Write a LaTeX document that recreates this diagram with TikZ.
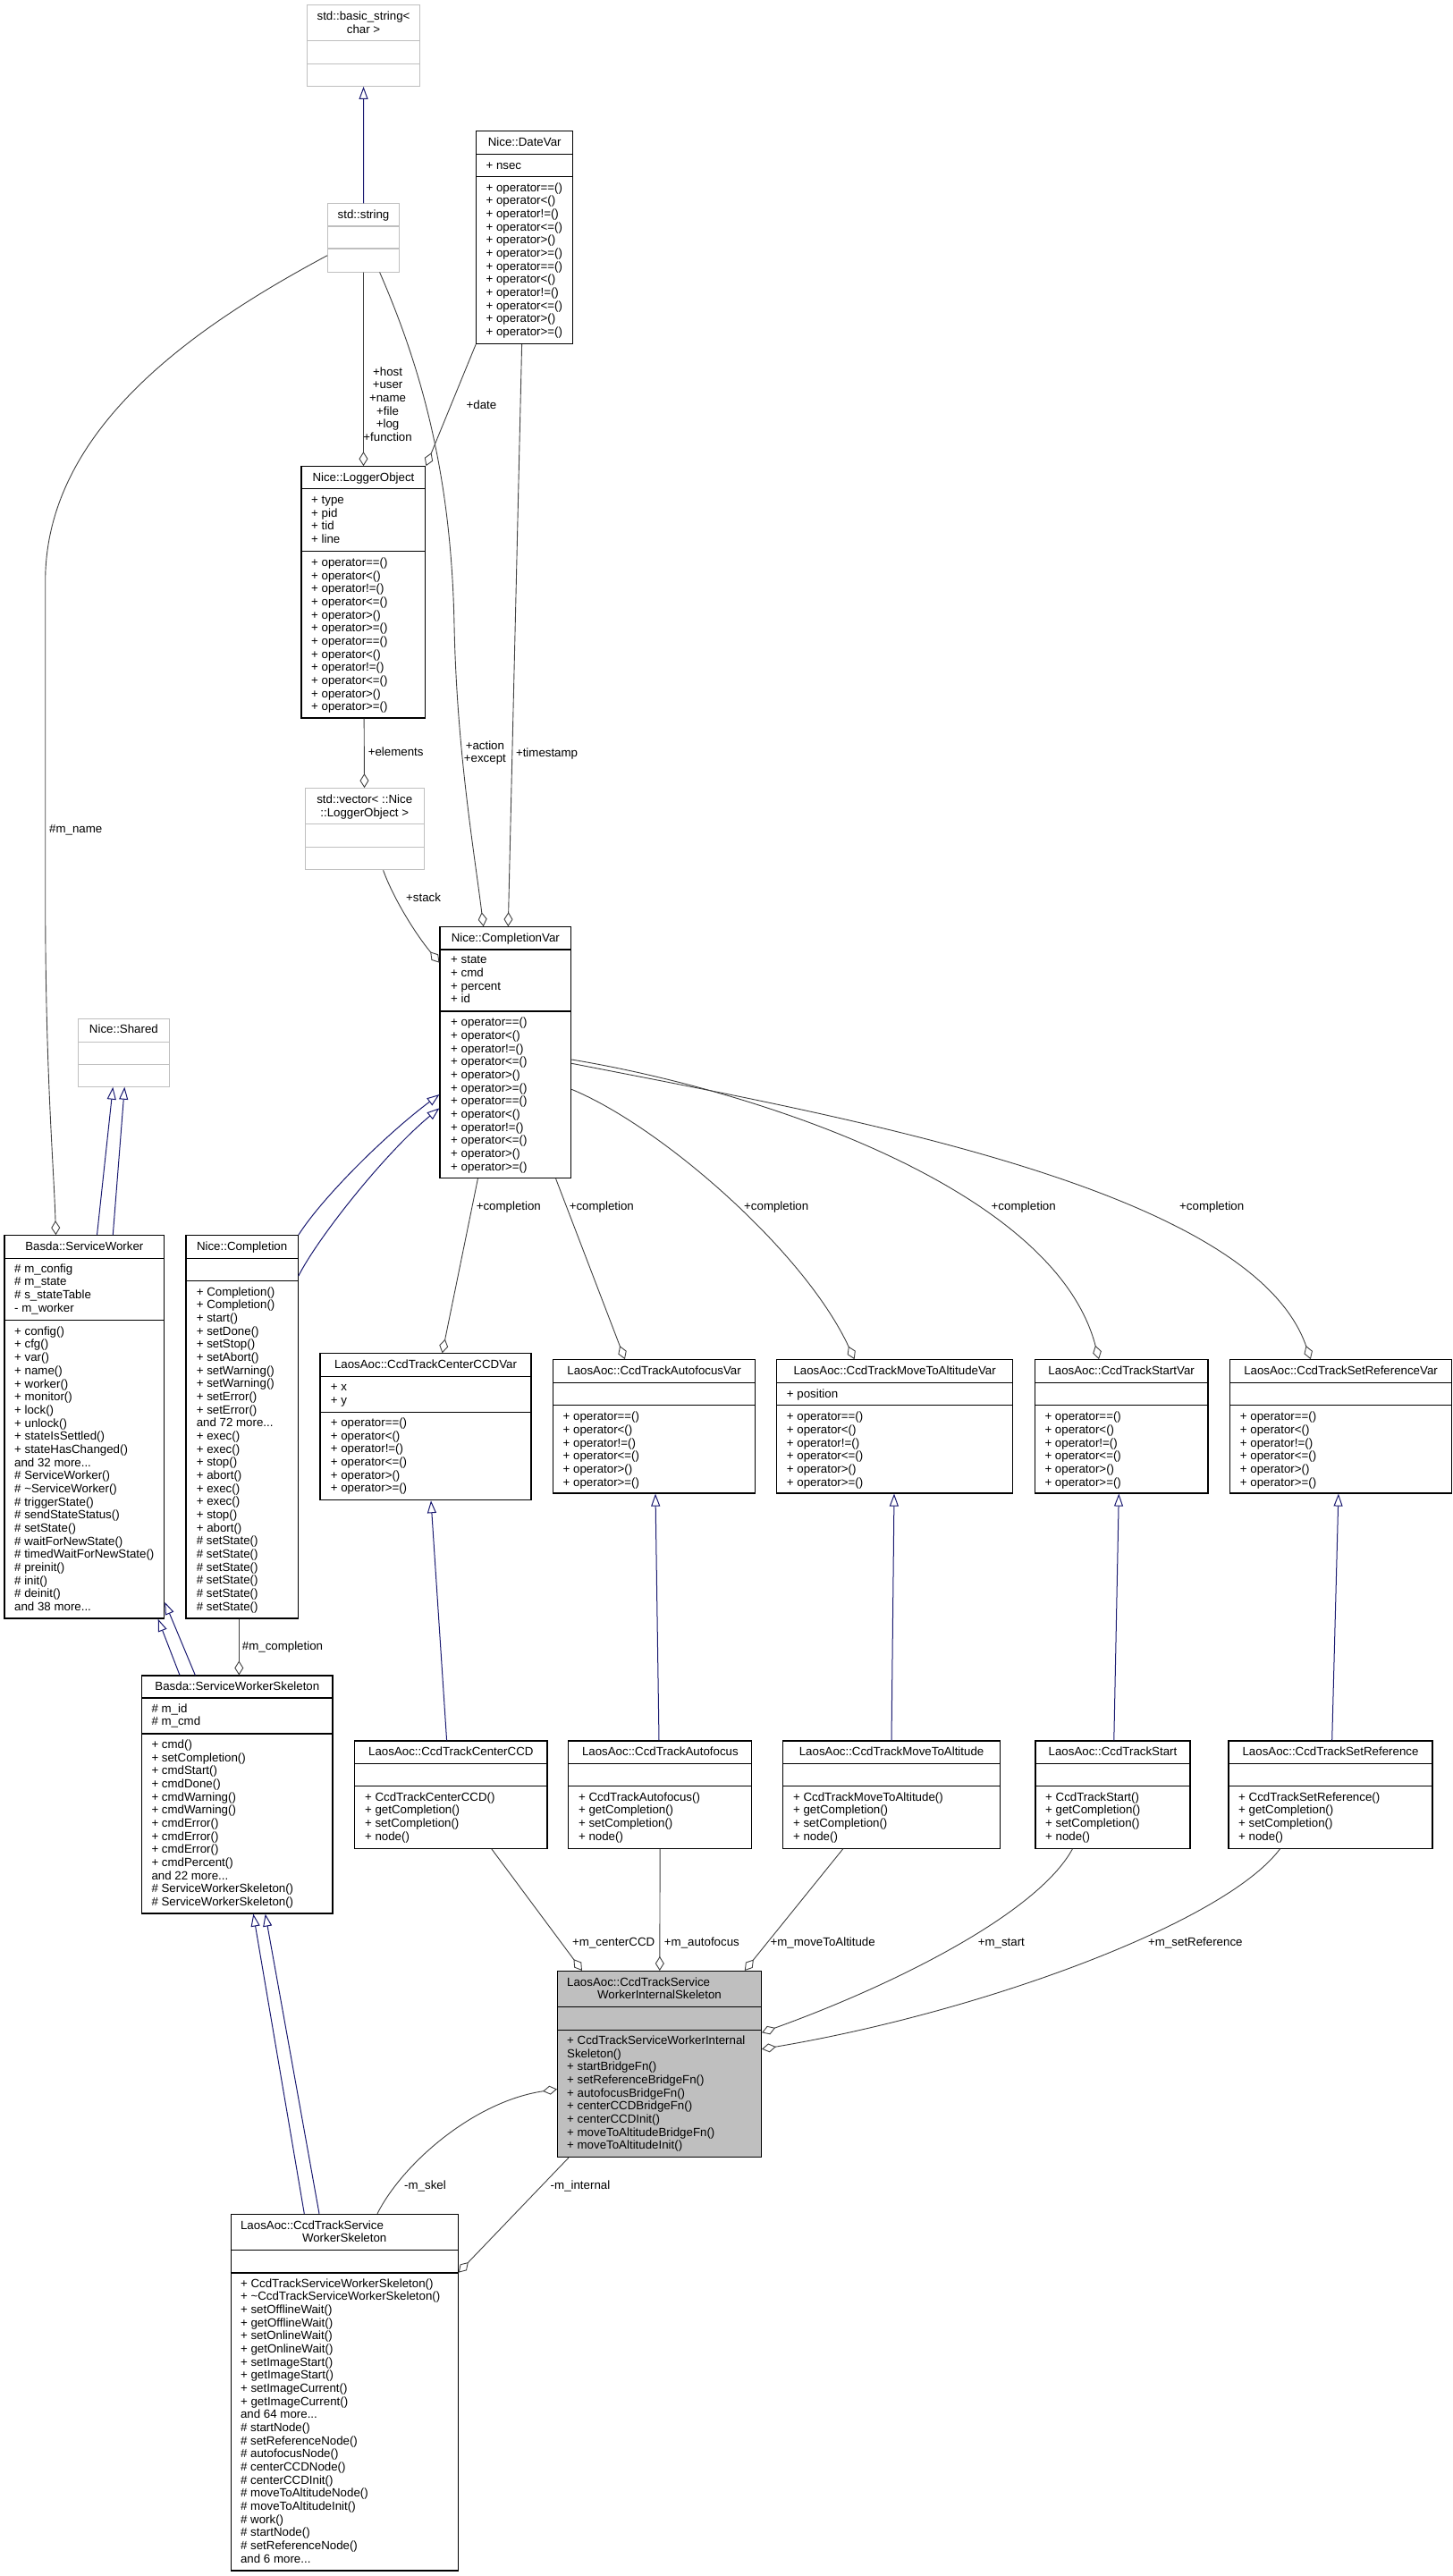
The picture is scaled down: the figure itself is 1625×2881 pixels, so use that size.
\documentclass[tikz,border=0pt]{standalone}
\usepackage{fontspec}
\setmainfont{Liberation Sans}
\usetikzlibrary{arrows.meta,fit}
\definecolor{edgegray}{HTML}{404040}
\definecolor{inhblue}{HTML}{191970}
\definecolor{extgray}{HTML}{BFBFBF}
\newcommand{\dfont}{\fontsize{13.3}{14.67}\selectfont}
\newcommand{\moredots}{...}
\newcommand{\clsline}[3][black]{\draw[draw=#1, line width=1.1pt] (#2.west |- 0,#3) -- (#2.east |- 0,#3);}
\newcommand{\members}[4]{\foreach \m [count=\k from 0] in {#4} \node[mem] (#1\k) at (#2,#3+\k*14.67) {\m};}
\tikzset{
  cls/.style={draw=black, line width=1.1pt, inner sep=0pt},
  ext/.style={draw=extgray, line width=1pt, inner sep=0pt},
  ttl/.style={anchor=base, inner sep=0pt, font=\dfont},
  mem/.style={anchor=base west, inner sep=0pt, font=\dfont},
  lbl/.style={inner sep=0pt, font=\dfont, align=center},
  assoc/.style={draw=edgegray, line width=0.9pt, -{Diamond[open, length=16pt, width=10pt]}},
  inh/.style={draw=inhblue, line width=1pt, -{Triangle[open, length=14pt, width=10pt]}}
}
\begin{document}
\begin{tikzpicture}[x=1pt, y=-1pt]
\useasboundingbox (0,0) rectangle (1625,2881);

% external classes
\node[ext, fit={(343.4,5.7) (469.7,96.4)}] (bstr) {};
\clsline[extgray]{bstr}{45.7} \clsline[extgray]{bstr}{71.4}
\node[ttl] (bstr-t1) at (bstr.center |- 0,22.7) {std::basic\_string<};
\node[ttl] (bstr-t2) at (bstr.center |- 0,37.7) {char >};

\node[ext, fit={(366.6,227.9) (446.5,304)}] (strg) {};
\clsline[extgray]{strg}{253} \clsline[extgray]{strg}{278}
\node[ttl] (strg-t) at (strg.center |- 0,244.3) {std::string};

\node[ext, fit={(341.5,881.6) (474,972.8)}] (vec) {};
\clsline[extgray]{vec}{921.6} \clsline[extgray]{vec}{947.2}
\node[ttl] (vec-t1) at (vec.center |- 0,898.2) {std::vector< ::Nice};
\node[ttl] (vec-t2) at (vec.center |- 0,913.3) {::LoggerObject >};

\node[ext, fit={(87.5,1139.3) (189.3,1215.2)}] (shrd) {};
\clsline[extgray]{shrd}{1165.2} \clsline[extgray]{shrd}{1190.2}
\node[ttl] (shrd-t) at (shrd.center |- 0,1155.1) {Nice::Shared};

% Nice
\node[cls, fit={(532.7,146.8) (640.7,384.6)}] (dvar) {};
\clsline{dvar}{172.9} \clsline{dvar}{197.5}
\node[ttl] (dvar-t) at (dvar.center |- 0,163.3) {Nice::DateVar};
\members{dvar-a}{543.4}{189.1}{+ nsec}
\members{dvar-m}{543.4}{214.1}{+ operator==(), + operator<(), + operator!=(), + operator<=(), + operator>(), + operator>=(), + operator==(), + operator<(), + operator!=(), + operator<=(), + operator>(), + operator>=()}

\node[cls, fit={(337,521.7) (475.9,803)}] (lobj) {};
\clsline{lobj}{546.6} \clsline{lobj}{616.4}
\node[ttl] (lobj-t) at (lobj.center |- 0,538.4) {Nice::LoggerObject};
\members{lobj-a}{348}{563.5}{+ type, + pid, + tid, + line}
\members{lobj-m}{348}{633.5}{+ operator==(), + operator<(), + operator!=(), + operator<=(), + operator>(), + operator>=(), + operator==(), + operator<(), + operator!=(), + operator<=(), + operator>(), + operator>=()}

\node[cls, fit={(492,1036.7) (638.7,1317.7)}] (cvar) {};
\clsline{cvar}{1062} \clsline{cvar}{1131}
\node[ttl] (cvar-t) at (cvar.center |- 0,1053.4) {Nice::CompletionVar};
\members{cvar-a}{504}{1077.8}{+ state, + cmd, + percent, + id}
\members{cvar-m}{504}{1147.8}{+ operator==(), + operator<(), + operator!=(), + operator<=(), + operator>(), + operator>=(), + operator==(), + operator<(), + operator!=(), + operator<=(), + operator>(), + operator>=()}

\node[cls, fit={(208,1381.7) (333.3,1810)}] (cmpl) {};
\clsline{cmpl}{1407.1} \clsline{cmpl}{1432.6}
\node[ttl] (cmpl-t) at (cmpl.center |- 0,1398.5) {Nice::Completion};
\members{cmpl-m}{219.6}{1449.1}{+ Completion(), + Completion(), + start(), + setDone(), + setStop(), + setAbort(), + setWarning(), + setWarning(), + setError(), + setError(), and 72 more\moredots, + exec(), + exec(), + stop(), + abort(), + exec(), + exec(), + stop(), + abort(), \# setState(), \# setState(), \# setState(), \# setState(), \# setState(), \# setState()}

% Basda
\node[cls, fit={(5,1381.7) (183.7,1810)}] (swk) {};
\clsline{swk}{1407.1} \clsline{swk}{1476.8}
\node[ttl] (swk-t) at (swk.center |- 0,1398.5) {Basda::ServiceWorker};
\members{swk-a}{16}{1423.25}{\# m\_config, \# m\_state, \# s\_stateTable, - m\_worker}
\members{swk-m}{16}{1493.3}{+ config(), + cfg(), + var(), + name(), + worker(), + monitor(), + lock(), + unlock(), + stateIsSettled(), + stateHasChanged(), and 32 more\moredots, \# ServiceWorker(), \# \textasciitilde ServiceWorker(), \# triggerState(), \# sendStateStatus(), \# setState(), \# waitForNewState(), \# timedWaitForNewState(), \# preinit(), \# init(), \# deinit(), and 38 more\moredots}

\node[cls, fit={(158.7,1874) (372,2140)}] (sws) {};
\clsline{sws}{1899} \clsline{sws}{1939}
\node[ttl] (sws-t) at (sws.center |- 0,1890.4) {Basda::ServiceWorkerSkeleton};
\members{sws-a}{169.3}{1915.2}{\# m\_id, \# m\_cmd}
\members{sws-m}{169.3}{1955.5}{+ cmd(), + setCompletion(), + cmdStart(), + cmdDone(), + cmdWarning(), + cmdWarning(), + cmdError(), + cmdError(), + cmdError(), + cmdPercent(), and 22 more\moredots, \# ServiceWorkerSkeleton(), \# ServiceWorkerSkeleton()}

% LaosAoc vars
\node[cls, fit={(358,1513.8) (594,1677.7)}] (ccvar) {};
\clsline{ccvar}{1539.7} \clsline{ccvar}{1579.5}
\node[ttl] (ccvar-t) at (ccvar.center |- 0,1530.1) {LaosAoc::CcdTrackCenterCCDVar};
\members{ccvar-a}{369.6}{1555.8}{+ x, + y}
\members{ccvar-m}{369.6}{1595.5}{+ operator==(), + operator<(), + operator!=(), + operator<=(), + operator>(), + operator>=()}

\node[cls, fit={(618.4,1520.7) (844.8,1670)}] (afvar) {};
\clsline{afvar}{1546.7} \clsline{afvar}{1571.7}
\node[ttl] (afvar-t) at (afvar.center |- 0,1537.4) {LaosAoc::CcdTrackAutofocusVar};
\members{afvar-m}{629.5}{1588.8}{+ operator==(), + operator<(), + operator!=(), + operator<=(), + operator>(), + operator>=()}

\node[cls, fit={(868.7,1520.7) (1132.6,1670)}] (mavar) {};
\clsline{mavar}{1546.7} \clsline{mavar}{1571.7}
\node[ttl] (mavar-t) at (mavar.center |- 0,1537.4) {LaosAoc::CcdTrackMoveToAltitudeVar};
\members{mavar-a}{879.7}{1563.8}{+ position}
\members{mavar-m}{879.7}{1588.8}{+ operator==(), + operator<(), + operator!=(), + operator<=(), + operator>(), + operator>=()}

\node[cls, fit={(1157.3,1520.7) (1351,1670)}] (stvar) {};
\clsline{stvar}{1546.7} \clsline{stvar}{1571.7}
\node[ttl] (stvar-t) at (stvar.center |- 0,1537.4) {LaosAoc::CcdTrackStartVar};
\members{stvar-m}{1168.3}{1588.8}{+ operator==(), + operator<(), + operator!=(), + operator<=(), + operator>(), + operator>=()}

\node[cls, fit={(1375.7,1520.7) (1623.4,1670)}] (srvar) {};
\clsline{srvar}{1546.7} \clsline{srvar}{1571.7}
\node[ttl] (srvar-t) at (srvar.center |- 0,1537.4) {LaosAoc::CcdTrackSetReferenceVar};
\members{srvar-m}{1386.7}{1588.8}{+ operator==(), + operator<(), + operator!=(), + operator<=(), + operator>(), + operator>=()}

% LaosAoc commands
\node[cls, fit={(396.7,1947) (612,2067.3)}] (cc) {};
\clsline{cc}{1972.4} \clsline{cc}{1997.7}
\node[ttl] (cc-t) at (cc.center |- 0,1963.4) {LaosAoc::CcdTrackCenterCCD};
\members{cc-m}{407.9}{2014.2}{+ CcdTrackCenterCCD(), + getCompletion(), + setCompletion(), + node()}

\node[cls, fit={(635.9,1947) (840.8,2067.3)}] (af) {};
\clsline{af}{1972.4} \clsline{af}{1997.7}
\node[ttl] (af-t) at (af.center |- 0,1963.4) {LaosAoc::CcdTrackAutofocus};
\members{af-m}{646.9}{2014.2}{+ CcdTrackAutofocus(), + getCompletion(), + setCompletion(), + node()}

\node[cls, fit={(875.9,1947) (1118.2,2067.3)}] (ma) {};
\clsline{ma}{1972.4} \clsline{ma}{1997.7}
\node[ttl] (ma-t) at (ma.center |- 0,1963.4) {LaosAoc::CcdTrackMoveToAltitude};
\members{ma-m}{886.9}{2014.2}{+ CcdTrackMoveToAltitude(), + getCompletion(), + setCompletion(), + node()}

\node[cls, fit={(1158,1947) (1331,2067.3)}] (st) {};
\clsline{st}{1972.4} \clsline{st}{1997.7}
\node[ttl] (st-t) at (st.center |- 0,1963.4) {LaosAoc::CcdTrackStart};
\members{st-m}{1169}{2014.2}{+ CcdTrackStart(), + getCompletion(), + setCompletion(), + node()}

\node[cls, fit={(1374,1947) (1602,2067.3)}] (sr) {};
\clsline{sr}{1972.4} \clsline{sr}{1997.7}
\node[ttl] (sr-t) at (sr.center |- 0,1963.4) {LaosAoc::CcdTrackSetReference};
\members{sr-m}{1385}{2014.2}{+ CcdTrackSetReference(), + getCompletion(), + setCompletion(), + node()}

% skeletons
\node[cls, fill=extgray, fit={(623.5,2204.5) (851.5,2412.5)}] (iskel) {};
\clsline{iskel}{2244.6} \clsline{iskel}{2270.3}
\node[mem] (iskel-t1) at (634,2221.4) {LaosAoc::CcdTrackService};
\node[ttl] (iskel-t2) at (iskel.center |- 0,2235.4) {WorkerInternalSkeleton};
\members{iskel-m}{634}{2286.5}{+ CcdTrackServiceWorkerInternal, Skeleton(), + startBridgeFn(), + setReferenceBridgeFn(), + autofocusBridgeFn(), + centerCCDBridgeFn(), + centerCCDInit(), + moveToAltitudeBridgeFn(), + moveToAltitudeInit()}

\node[cls, fit={(258.2,2476.3) (512.2,2875)}] (wsk) {};
\clsline{wsk}{2516.4} \clsline{wsk}{2542}
\node[mem] (wsk-t1) at (268.9,2493.7) {LaosAoc::CcdTrackService};
\node[ttl] (wsk-t2) at (wsk.center |- 0,2507.7) {WorkerSkeleton};
\members{wsk-m}{268.9}{2558.2}{+ CcdTrackServiceWorkerSkeleton(), + \textasciitilde CcdTrackServiceWorkerSkeleton(), + setOfflineWait(), + getOfflineWait(), + setOnlineWait(), + getOnlineWait(), + setImageStart(), + getImageStart(), + setImageCurrent(), + getImageCurrent(), and 64 more\moredots, \# startNode(), \# setReferenceNode(), \# autofocusNode(), \# centerCCDNode(), \# centerCCDInit(), \# moveToAltitudeNode(), \# moveToAltitudeInit(), \# work(), \# startNode(), \# setReferenceNode(), and 6 more\moredots}

% inheritance
\draw[inh] (strg) -- (bstr);
\draw[inh] (108.5,0 |- swk.north) -- (126.3,0 |- shrd.south);
\draw[inh] (126.3,0 |- swk.north) -- (139.3,0 |- shrd.south);
\draw[inh] (cmpl.north east) .. controls (360,1340) and (430,1270) .. (cvar.west |- 0,1224);
\draw[inh] (cmpl.east |- 0,1427) .. controls (355,1385) and (430,1290) .. (cvar.west |- 0,1239.3);
\draw[inh] (201,0 |- sws.north) -- (176.7,0 |- swk.south);
\draw[inh] (218.3,0 |- sws.north) -- (swk.east |- 0,1791.7);
\draw[inh] (499.6,0 |- cc.north) -- (482,0 |- ccvar.south);
\draw[inh] (737,0 |- af.north) -- (733,0 |- afvar.south);
\draw[inh] (997,0 |- ma.north) -- (1000,0 |- mavar.south);
\draw[inh] (1245.8,0 |- st.north) -- (1251.3,0 |- stvar.south);
\draw[inh] (1489.7,0 |- sr.north) -- (1496.9,0 |- srvar.south);
\draw[inh] (340.3,0 |- wsk.north) -- (283.3,0 |- sws.south);
\draw[inh] (357,0 |- wsk.north) -- (296.7,0 |- sws.south);

% members
\draw[assoc] (strg) -- (lobj);
\draw[assoc] (424.6,0 |- strg.south) .. controls (475,420) and (505,540) .. (508,700) .. controls (511,840) and (530,950) .. (540.7,0 |- cvar.north);
\draw[assoc] (dvar.south west) -- (lobj.north east);
\draw[assoc] (583.6,0 |- dvar.south) -- (568.3,0 |- cvar.north);
\draw[assoc] (lobj) -- (vec);
\draw[assoc] (428.6,0 |- vec.south) .. controls (440,1005) and (465,1045) .. (cvar.west |- 0,1076.7);
\draw[assoc] (strg.west |- 0,285.7) .. controls (216.6,365.7) and (50.7,480) .. (50.7,650) -- (50.7,1000) .. controls (50.7,1200) and (60,1300) .. (62.5,0 |- swk.north);
\draw[assoc] (534.4,0 |- cvar.south) -- (494.6,0 |- ccvar.north);
\draw[assoc] (621.6,0 |- cvar.south) -- (698.9,0 |- afvar.north);
\draw[assoc] (cvar.east |- 0,1218.3) .. controls (740,1260) and (900,1400) .. (955.6,0 |- mavar.north);
\draw[assoc] (cvar.east |- 0,1185) .. controls (850,1220) and (1180,1330) .. (1229,0 |- stvar.north);
\draw[assoc] (cvar.east |- 0,1189.3) .. controls (950,1250) and (1400,1330) .. (1465.8,0 |- srvar.north);
\draw[assoc] (267.3,0 |- cmpl.south) -- (267.3,0 |- sws.north);
\draw[assoc] (549.8,0 |- cc.south) -- (651,0 |- iskel.north);
\draw[assoc] (af) -- (iskel);
\draw[assoc] (942.7,0 |- ma.south) -- (832.8,0 |- iskel.north);
\draw[assoc] (1199.4,0 |- st.south) .. controls (1160,2140) and (1000,2220) .. (iskel.east |- 0,2273.3);
\draw[assoc] (1431.5,0 |- sr.south) .. controls (1370,2150) and (1100,2250) .. (iskel.east |- 0,2291.7);
\draw[assoc] (422,0 |- wsk.north) .. controls (450,2420) and (530,2350) .. (iskel.west |- 0,2336.5);
\draw[assoc] (636,0 |- iskel.south) -- (wsk.east |- 0,2541.6);

% labels
\node[lbl] (lhost) at (433.6,452.2) {+host\\+user\\+name\\+file\\+log\\+function};
\node[lbl, anchor=base] (ldate) at (538.5,457.4) {+date};
\node[lbl] (laction) at (542.4,842) {+action\\+except};
\node[lbl, anchor=base west] (lstamp) at (576.8,846.5) {+timestamp};
\node[lbl, anchor=base west] (lelem) at (411.6,845.5) {+elements};
\node[lbl, anchor=base west] (lstack) at (454,1008.2) {+stack};
\node[lbl, anchor=base west] (lname) at (55,931) {\#m\_name};
\foreach \x [count=\i] in {532.6,636.6,832,1108.5,1319}
  \node[lbl, anchor=base west] (lcompl\i) at (\x,1353.5) {+completion};
\node[lbl, anchor=base west] (lmcompl) at (270.7,1845.2) {\#m\_completion};
\node[lbl, anchor=base west] (lcenter) at (640,2176.3) {+m\_centerCCD};
\node[lbl, anchor=base west] (lauto) at (742.7,2176.3) {+m\_autofocus};
\node[lbl, anchor=base west] (lmove) at (861.4,2176.3) {+m\_moveToAltitude};
\node[lbl, anchor=base west] (lstart) at (1093.6,2176.3) {+m\_start};
\node[lbl, anchor=base west] (lsetref) at (1284,2176.3) {+m\_setReference};
\node[lbl, anchor=base] (lskel) at (475.5,2448.2) {-m\_skel};
\node[lbl, anchor=base] (linternal) at (649,2448.2) {-m\_internal};
\end{tikzpicture}
\end{document}
